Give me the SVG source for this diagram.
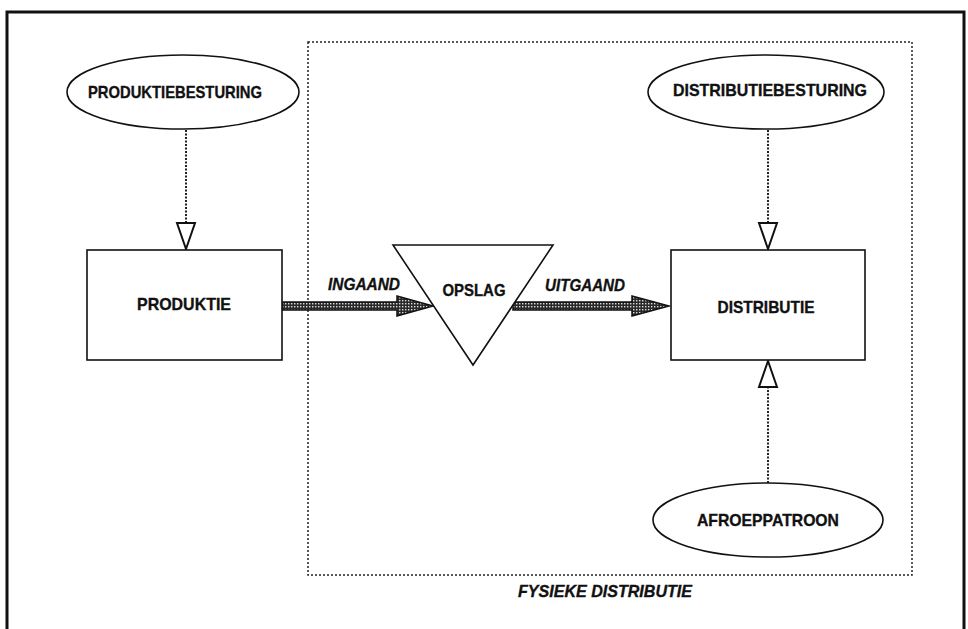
<svg xmlns="http://www.w3.org/2000/svg" width="968" height="629" viewBox="0 0 968 629">
<style>
.lbl{font-family:"Liberation Sans",Arial,sans-serif;font-weight:bold;font-size:17px;fill:#111;stroke:#111;stroke-width:0.35;text-anchor:middle;dominant-baseline:central}
.it{font-style:italic}
.shape{fill:#fff;stroke:#111;stroke-width:1.6}
.dotc{fill:none;stroke:#222;stroke-width:2;stroke-dasharray:2 1.5}
.thick{fill:url(#chk);stroke:#111;stroke-width:1.5}
.head{fill:#fff;stroke:#111;stroke-width:2}
</style>
<defs>
<pattern id="chk" width="3" height="3" patternUnits="userSpaceOnUse">
<rect width="3" height="3" fill="#2a2a2a"/>
<rect x="0" y="0" width="1.4" height="1.4" fill="#ddd"/>
</pattern>
</defs>
<rect x="0" y="0" width="968" height="629" fill="#fff"/>
<rect x="7" y="12" width="957" height="640" fill="none" stroke="#111" stroke-width="3"/>
<g id="fysieke-distributie">
<rect x="308" y="42" width="604" height="533" fill="none" stroke="#222" stroke-width="1.5" stroke-dasharray="2 2"/>
<text class="lbl it" x="605" y="591" textLength="174" lengthAdjust="spacingAndGlyphs">FYSIEKE DISTRIBUTIE</text>
</g>
<g id="connectors">
<line class="dotc" x1="186" y1="130" x2="186" y2="222"/>
<path class="head" d="M177 223 L195 223 L186 249 Z"/>
<line class="dotc" x1="768" y1="130" x2="768" y2="222"/>
<path class="head" d="M759 223 L777 223 L768 249 Z"/>
<line class="dotc" x1="768" y1="483" x2="768" y2="388"/>
<path class="head" d="M759 387 L777 387 L768 361 Z"/>
<path class="thick" d="M282 302 L397 302 L397 296 L433 306 L397 316 L397 310 L282 310 Z"/>
<text class="lbl it" x="364" y="284" textLength="72" lengthAdjust="spacingAndGlyphs">INGAAND</text>
<path class="thick" d="M513 302 L632 302 L632 296 L669 306 L632 316 L632 310 L513 310 Z"/>
<text class="lbl it" x="585" y="285" textLength="80" lengthAdjust="spacingAndGlyphs">UITGAAND</text>
</g>
<g id="produktiebesturing">
<ellipse class="shape" cx="183" cy="92" rx="116" ry="37"/>
<text class="lbl" x="175" y="92" textLength="174" lengthAdjust="spacingAndGlyphs">PRODUKTIEBESTURING</text>
</g>
<g id="produktie">
<rect class="shape" x="87" y="250" width="195" height="110"/>
<text class="lbl" x="184" y="304" textLength="94" lengthAdjust="spacingAndGlyphs">PRODUKTIE</text>
</g>
<g id="opslag">
<path class="shape" d="M393 245 L553 245 L473 365 Z"/>
<text class="lbl" x="474" y="290" textLength="63" lengthAdjust="spacingAndGlyphs">OPSLAG</text>
</g>
<g id="distributiebesturing">
<ellipse class="shape" cx="766" cy="92" rx="118" ry="37"/>
<text class="lbl" x="770" y="90" textLength="194" lengthAdjust="spacingAndGlyphs">DISTRIBUTIEBESTURING</text>
</g>
<g id="distributie">
<rect class="shape" x="671" y="250" width="194" height="110"/>
<text class="lbl" x="766" y="307" textLength="97" lengthAdjust="spacingAndGlyphs">DISTRIBUTIE</text>
</g>
<g id="afroeppatroon">
<ellipse class="shape" cx="768" cy="520" rx="115" ry="37"/>
<text class="lbl" x="768" y="520" textLength="142" lengthAdjust="spacingAndGlyphs">AFROEPPATROON</text>
</g>
</svg>
